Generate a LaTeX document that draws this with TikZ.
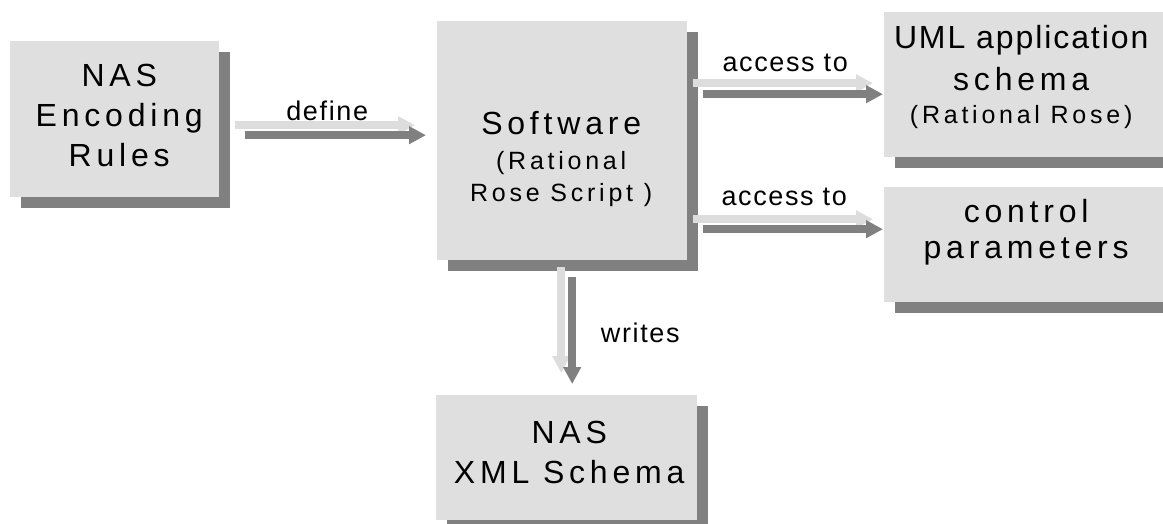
\documentclass[tikz,border=0pt]{standalone}
\usepackage{fontspec}
\setmainfont{Liberation Sans}[LetterSpace=15]
\newfontfamily\lblfont{Liberation Sans}[LetterSpace=6]
\usetikzlibrary{arrows.meta, positioning, calc, shadows}

\definecolor{boxgray}{RGB}{223,223,223}
\definecolor{shadegray}{RGB}{128,128,128}
\definecolor{palegray}{RGB}{221,221,221}

\newcommand{\medsize}{\fontsize{25}{32}\selectfont}

\begin{document}
\begin{tikzpicture}[
    x=1pt, y=-1pt,
    box/.style={fill=boxgray, anchor=north west, inner sep=0pt,
        drop shadow={shadow xshift=10.5pt, shadow yshift=-10.5pt, fill=shadegray, opacity=1}},
    boxtext/.style={align=center, inner sep=0pt, text=black, font=\fontsize{32}{40}\selectfont},
    arrowlabel/.style={anchor=base, inner sep=0pt, text=black, font=\lblfont\fontsize{27}{32}\selectfont},
    lightarrow/.style={-{Triangle[length=17pt, width=17pt]}, line width=7.5pt, palegray},
    darkarrow/.style={-{Triangle[length=17pt, width=17pt]}, line width=7.5pt, shadegray}
]
\useasboundingbox (0,0) rectangle (1163,524);
\clip (0,0) rectangle (1163,524);

% ============ BOXES ============
\node[box, minimum width=209, minimum height=156] (enc) at (10,41) {};
\node[box, minimum width=250, minimum height=239] (soft) at (437,21) {};
\node[box, minimum width=286, minimum height=145] (uml) at (884,12) {};
\node[box, minimum width=286, minimum height=115] (ctrl) at (884,187) {};
\node[box, minimum width=261, minimum height=125] (xml) at (436,395) {};

% Box texts
\node[boxtext] (enctxt) at ($(enc.center)+(4.5,-3.5)$) {NAS\\Encoding\\Rules};
\node[boxtext] (softtxt) at ($(soft.center)+(-1,18)$)
    {Software\\[-5pt]{\medsize (Rational}\\[-8pt]{\medsize Rose Script )}};
\node[boxtext] (umltxt) at ($(uml.center)+(-6,-7.5)$)
    {{\addfontfeatures{LetterSpace=6}UML application}\\[2pt]schema\\[-7pt]{\medsize (Rational Rose)}};
\node[boxtext] (ctrltxt) at ($(ctrl.center)+(-1,-12.5)$) {control\\[-4pt]parameters};
\node[boxtext] (xmltxt) at ($(xml.center)+(2.5,-5)$) {NAS\\XML Schema};

% ============ ARROWS ============
% define
\draw[lightarrow] ($(enc.east)+(16,6)$) --
    node[arrowlabel, yshift=5pt, xshift=2pt] (deflbl) {define}
    ($(enc.east -| soft.west)+(-22,6)$);
\draw[darkarrow] ($(enc.east)+(26,16)$) -- ($(enc.east -| soft.west)+(-11,16)$);

% access to (upper)
\draw[lightarrow] ($(uml.west -| soft.east)+(6,-1.5)$) --
    node[arrowlabel, yshift=12pt, xshift=2pt] (acclbla) {access to}
    ($(uml.west)+(-11,-1.5)$);
\draw[darkarrow] ($(uml.west -| soft.east)+(16,9.5)$) -- ($(uml.west)+(-1,9.5)$);

% access to (lower)
\draw[lightarrow] ($(ctrl.west -| soft.east)+(6,-25.5)$) --
    node[arrowlabel, yshift=14pt, xshift=1pt] (acclblb) {access to}
    ($(ctrl.west)+(-11,-25.5)$);
\draw[darkarrow] ($(ctrl.west -| soft.east)+(16,-15.5)$) -- ($(ctrl.west)+(-1,-15.5)$);

% writes
\draw[lightarrow] ($(soft.south)+(-1,7)$) -- ($(soft.south |- xml.north)+(-1,-22)$);
\draw[darkarrow] ($(soft.south)+(10,17)$) --
    node[arrowlabel, anchor=base west, xshift=25pt, yshift=-11.5pt] (wrtlbl) {writes}
    ($(soft.south |- xml.north)+(10,-11)$);

\end{tikzpicture}
\end{document}
